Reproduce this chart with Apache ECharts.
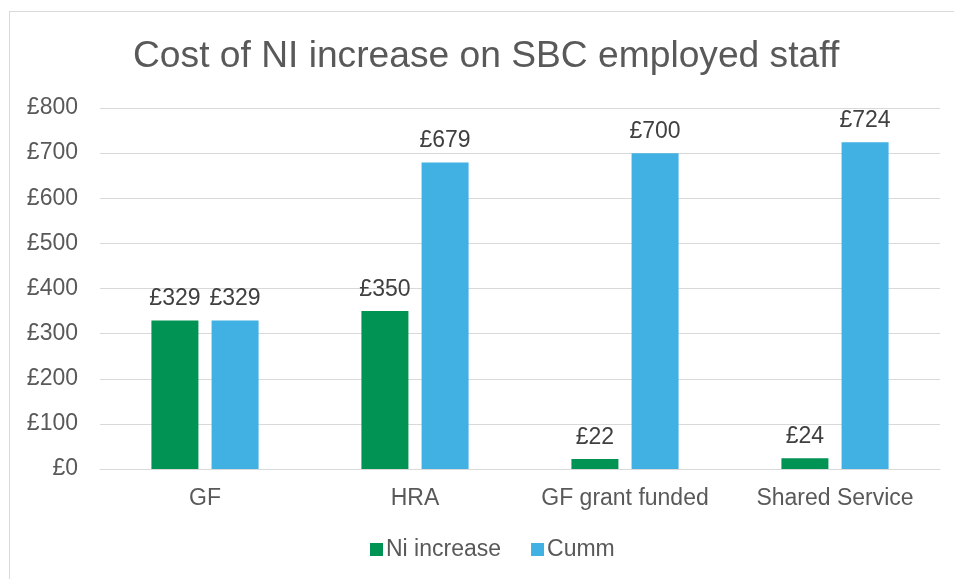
<!DOCTYPE html>
<html>
<head>
<meta charset="utf-8">
<script src="https://cdn.jsdelivr.net/npm/echarts@6/dist/echarts.min.js"></script>
<style>
html, body { margin: 0; padding: 0; background: #fff; }
#frame { position: absolute; left: 9px; top: 11px; width: 960px; height: 600px; border: 1px solid #d9d9d9; }
#main { position: absolute; left: 0; top: 0; width: 954px; height: 579px; }
</style>
</head>
<body>
<div id="frame"></div>
<div id="main"></div>
<script>
const categories = ['GF', 'HRA', 'GF grant funded', 'Shared Service'];
const niIncrease = [329, 350, 22, 24];
const cumm = [329, 679, 700, 724];
const yTicks = { min: 0, max: 800, interval: 100 };

const chart = echarts.init(document.getElementById('main'));
const labelStyle = {
    show: true,
    position: 'top',
    distance: 10,
    color: '#404040',
    fontSize: 23,
    fontFamily: 'Liberation Sans, Arial, sans-serif',
    formatter: p => '£' + p.value
};
const option = {
    animation: false,
    textStyle: { fontFamily: 'Liberation Sans, Arial, sans-serif' },
    title: {
        text: 'Cost of NI increase on SBC employed staff',
        left: 128,
        top: 33,
        textStyle: { fontSize: 37.2, fontWeight: 'normal', color: '#595959' }
    },
    legend: {
        bottom: 13,
        left: 365,
        itemWidth: 13,
        itemHeight: 13,
        itemGap: 30,
        icon: 'rect',
        textStyle: { fontSize: 23, color: '#595959', padding: [0, 0, 0, -2] },
        data: ['Ni increase', 'Cumm']
    },
    grid: { left: 100, right: 14, top: 108, bottom: 110 },
    xAxis: {
        type: 'category',
        data: categories,
        axisLine: { lineStyle: { color: '#d9d9d9', width: 1 } },
        axisTick: { show: false },
        axisLabel: { fontSize: 23, color: '#595959', margin: 18, interval: 0 }
    },
    yAxis: {
        type: 'value',
        min: yTicks.min,
        max: yTicks.max,
        interval: yTicks.interval,
        axisLine: { show: false },
        axisTick: { show: false },
        splitLine: { lineStyle: { color: '#d9d9d9', width: 1 } },
        axisLabel: { fontSize: 23, color: '#595959', margin: 22, formatter: v => '£' + v }
    },
    series: [
        {
            name: 'Ni increase',
            type: 'bar',
            data: niIncrease,
            barWidth: 47,
            barGap: '28%',
            itemStyle: { color: '#009353' },
            label: labelStyle
        },
        {
            name: 'Cumm',
            type: 'bar',
            data: cumm,
            barWidth: 47,
            itemStyle: { color: '#41B0E3' },
            label: labelStyle
        }
    ]
};
chart.setOption(option);
</script>
</body>
</html>
